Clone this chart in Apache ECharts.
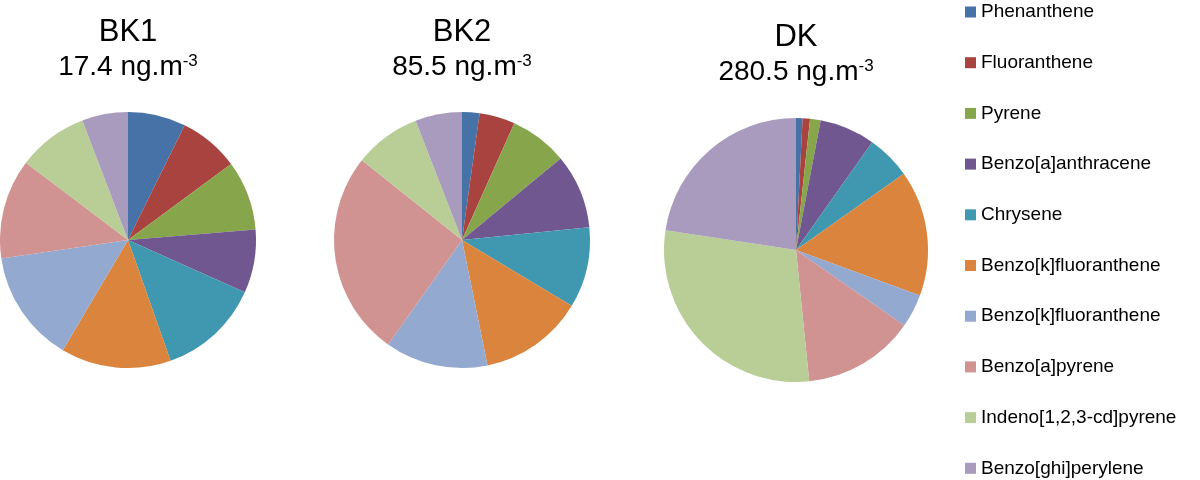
<!DOCTYPE html>
<html>
<head>
<meta charset="utf-8">
<script src="https://cdn.jsdelivr.net/npm/echarts@6/dist/echarts.min.js"></script>
<style>
  html, body { margin: 0; padding: 0; background: #fff; }
  #chart-container { width: 1200px; height: 480px; }
</style>
</head>
<body>
<div id="chart-container"></div>
<script>
// compounds, in legend order (the reference lists Benzo[k]fluoranthene twice)
const categories = [
  'Phenanthene', 'Fluoranthene', 'Pyrene', 'Benzo[a]anthracene', 'Chrysene',
  'Benzo[k]fluoranthene', 'Benzo[k]fluoranthene', 'Benzo[a]pyrene',
  'Indeno[1,2,3-cd]pyrene', 'Benzo[ghi]perylene'
];

// share of each compound, % of total
const bk1Values = [7.3, 7.6, 8.8, 8.0, 12.9, 13.9, 14.2, 12.6, 8.9, 5.8];
const bk2Values = [2.2, 4.5, 7.3, 9.4, 10.2, 13.2, 13.0, 25.9, 8.4, 5.9];
const dkValues = [0.8, 0.9, 1.3, 6.8, 5.4, 15.4, 4.1, 13.7, 29.0, 22.6];

const siteNames = ['BK1', 'BK2', 'DK'];
const siteTotals = ['17.4', '85.5', '280.5'];

const colors = ['#4672a8', '#a8433f', '#87a64c', '#70578f', '#4098b0',
  '#db843d', '#93a9cf', '#d19392', '#b9cd96', '#a99bbd'];

// legend matches by name, so make the repeated label unique
const seen = {};
const keys = categories.map(c => {
  seen[c] = (seen[c] || 0) + 1;
  return c + ' '.repeat(seen[c] - 1);
});

const font = '"Liberation Sans", Arial, Helvetica, sans-serif';
const layout = [
  { x: 128, y: 240, r: 128, top: 14 },
  { x: 462, y: 240, r: 128, top: 14 },
  { x: 796, y: 250, r: 132, top: 19 }
];
const allValues = [bk1Values, bk2Values, dkValues];

const chart = echarts.init(document.getElementById('chart-container'));

const option = {
  backgroundColor: '#fff',
  color: colors,
  animation: false,
  title: siteNames.map((name, i) => ({
    text: '{a|' + name + '}\n{b|' + siteTotals[i] + ' ng.m}{s|-3}',
    left: layout[i].x,
    top: layout[i].top,
    textAlign: 'center',
    padding: 0,
    textStyle: {
      fontWeight: 'normal',
      rich: {
        a: { fontFamily: font, fontSize: 31, fontWeight: 'normal', color: '#000', lineHeight: 36 },
        b: { fontFamily: font, fontSize: 28, fontWeight: 'normal', color: '#000', lineHeight: 34 },
        s: { fontFamily: font, fontSize: 17, fontWeight: 'normal', color: '#000', padding: [0, 0, 12, 0] }
      }
    }
  })),
  legend: {
    orient: 'vertical',
    left: 965,
    top: 2,
    padding: 0,
    itemWidth: 11,
    itemHeight: 11,
    itemGap: 30.7,
    icon: 'rect',
    data: keys,
    formatter: n => n.trim(),
    textStyle: { fontFamily: font, fontSize: 19, color: '#000', lineHeight: 20 }
  },
  series: allValues.map((vals, i) => ({
    name: siteNames[i],
    type: 'pie',
    center: [layout[i].x, layout[i].y],
    radius: layout[i].r,
    startAngle: 90,
    clockwise: true,
    avoidLabelOverlap: false,
    label: { show: false },
    labelLine: { show: false },
    emphasis: { disabled: true },
    itemStyle: { borderWidth: 0 },
    data: vals.map((v, j) => ({ name: keys[j], value: v }))
  }))
};

chart.setOption(option);
</script>
</body>
</html>
